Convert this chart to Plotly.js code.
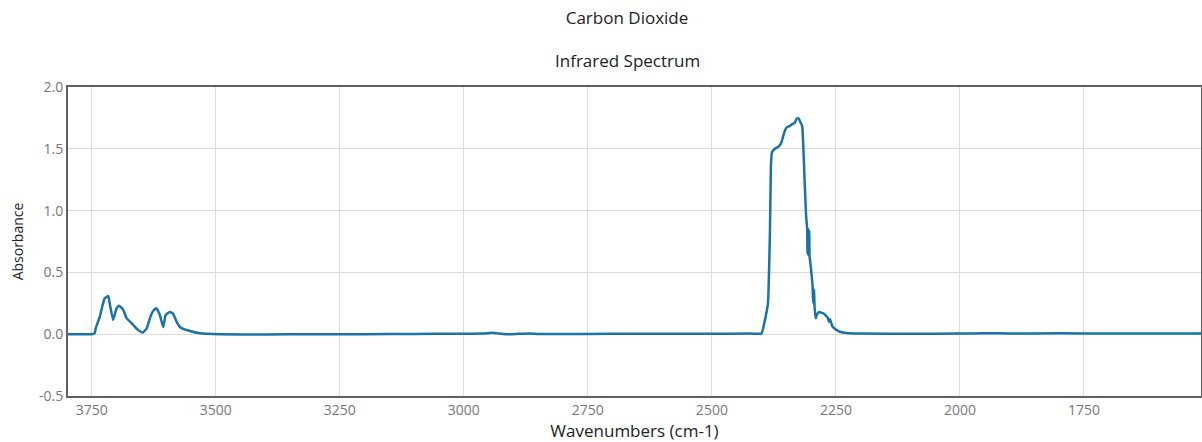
<!DOCTYPE html>
<html>
<head>
<meta charset="utf-8">
<script src="https://cdn.plot.ly/plotly-3.0.1.min.js"></script>
<style>html,body{margin:0;padding:0;background:#fff;}#chart{width:1202px;height:442px;}</style>
</head>
<body>
<div id="chart"></div>
<script>
const chartTitle = "Carbon Dioxide";
const chartSubtitle = "Infrared Spectrum";
const xLabel = "Wavenumbers (cm-1)";
const yLabel = "Absorbance";

const wavenumbers = [
  3798, 3760, 3750, 3744, 3742, 3734, 3728, 3724, 3717, 3714, 3707, 3700, 3695, 3687, 3680,
  3670, 3657, 3647, 3639, 3632, 3626, 3620, 3613, 3606, 3601, 3593, 3586, 3579, 3571, 3556,
  3532, 3492, 3400, 3300, 3200, 3100, 3000, 2960, 2942, 2925, 2914, 2890, 2867, 2850, 2800,
  2700, 2600, 2500, 2420, 2400, 2393, 2387, 2383, 2381, 2379, 2373, 2365, 2360, 2355, 2350,
  2343, 2338, 2333, 2329, 2325, 2321, 2318, 2313, 2310, 2308, 2307.3, 2306.6, 2305.9, 2305.2,
  2304.5, 2303.8, 2303, 2301, 2299, 2297, 2296, 2295.3, 2294.6, 2294, 2293, 2291.5, 2290.5,
  2288, 2284, 2280, 2276.5, 2272.5, 2268.5, 2266, 2264, 2262, 2260, 2257.4, 2254, 2249, 2242,
  2229, 2200, 2100, 2000, 1950, 1900, 1800, 1700, 1600, 1514
];
const absorbance = [
  0.0, 0.0, 0.0, 0.01, 0.05, 0.14, 0.24, 0.29, 0.31, 0.25, 0.115, 0.21, 0.23, 0.20, 0.13,
  0.09, 0.035, 0.013, 0.05, 0.14, 0.19, 0.21, 0.157, 0.057, 0.157, 0.18, 0.165, 0.10, 0.054, 0.03,
  0.008, 0.0, -0.002, 0.0, 0.0, 0.002, 0.004, 0.006, 0.012, 0.004, 0.0, 0.003, 0.006, 0.002, 0.002,
  0.003, 0.004, 0.004, 0.005, 0.006, 0.116, 0.25, 0.82, 1.36, 1.47, 1.50, 1.52, 1.55, 1.62, 1.67,
  1.685, 1.70, 1.71, 1.745, 1.745, 1.71, 1.685, 1.23, 0.95, 0.86, 0.65, 0.86, 0.64, 0.85,
  0.63, 0.84, 0.63, 0.56, 0.48, 0.39, 0.26, 0.37, 0.24, 0.36, 0.22, 0.16, 0.13,
  0.16, 0.18, 0.175, 0.17, 0.16, 0.143, 0.13, 0.10, 0.12, 0.10, 0.065, 0.05, 0.035, 0.02,
  0.01, 0.005, 0.004, 0.005, 0.008, 0.006, 0.007, 0.006, 0.005, 0.005
];
const xTicks = [3750, 3500, 3250, 3000, 2750, 2500, 2250, 2000, 1750];
const yTicks = [-0.5, 0.0, 0.5, 1.0, 1.5, 2.0];
const yTickLabels = ["-0.5", "0.0", "0.5", "1.0", "1.5", "2.0"];

const trace = {
  x: wavenumbers, y: absorbance, type: 'scatter', mode: 'lines',
  line: {color: '#1a73a8', width: 2.5, shape: 'spline', smoothing: 0.4},
  hoverinfo: 'x+y'
};

const layout = {
  width: 1202, height: 442,
  margin: {l: 68, r: 1, t: 87, b: 46},
  paper_bgcolor: '#ffffff', plot_bgcolor: '#ffffff',
  font: {family: 'Open Sans, sans-serif', color: '#222'},
  showlegend: false,
  title: {text: chartTitle, font: {size: 17, color: '#222'}, xref: 'container', x: 627/1202, xanchor: 'center', yref: 'container', y: 1 - 18/442, yanchor: 'middle'},
  annotations: [{text: chartSubtitle, showarrow: false, xref: 'paper', yref: 'paper', x: (627-68)/1133, y: (396-61)/309, xanchor: 'center', yanchor: 'middle', font: {size: 17, color: '#222'}}],
  xaxis: {
    range: [3798, 1514], tickvals: xTicks, ticktext: xTicks.map(String),
    showgrid: true, gridcolor: '#dcdcdc', gridwidth: 1, zeroline: false,
    showline: true, linecolor: '#606060', linewidth: 2, mirror: true, ticks: '',
    tickfont: {size: 14, color: '#777'},
    title: {text: xLabel, font: {size: 17, color: '#222'}, standoff: 6}
  },
  yaxis: {
    range: [-0.5, 2.0], tickvals: yTicks, ticktext: yTickLabels,
    showgrid: true, gridcolor: '#dcdcdc', gridwidth: 1, zeroline: false,
    showline: true, linecolor: '#606060', linewidth: 2, mirror: true, ticks: '',
    tickfont: {size: 14, color: '#777'},
    title: {text: yLabel, font: {size: 14, color: '#222'}, standoff: 12}
  }
};

Plotly.newPlot('chart', [trace], layout, {displayModeBar: false, staticPlot: true});
</script>
</body>
</html>
